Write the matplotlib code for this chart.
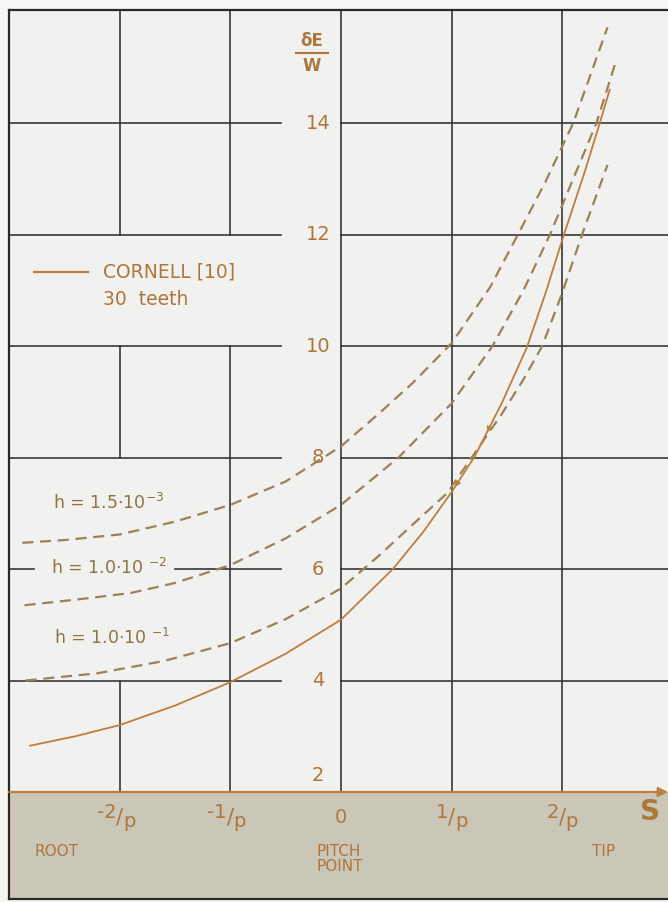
import numpy as np
import matplotlib
matplotlib.use("Agg")
import matplotlib.pyplot as plt
from matplotlib.transforms import offset_copy

plt.rcParams['font.family'] = ['DejaVu Sans']
plt.rcParams['mathtext.default'] = 'regular'

# ---------------- data (s in units of 1/p, deflection dE/W) ----------------
cornell_s = [-2.81, -2.4, -2.0, -1.5, -1.0, -0.5, 0.0, 0.47, 0.75, 1.0, 1.21, 1.46, 1.68, 1.85, 2.0, 2.2, 2.34, 2.43]
cornell_v = [2.83, 3.00, 3.20, 3.55, 3.97, 4.48, 5.09, 6.00, 6.68, 7.38, 8.02, 9.00, 9.97, 10.95, 11.9, 13.1, 14.0, 14.6]

h15e3_s = [-2.88, -2.5, -2.0, -1.5, -1.0, -0.5, 0.0, 0.35, 0.65, 1.0, 1.35, 1.60, 1.85, 2.10, 2.41]
h15e3_v = [6.47, 6.52, 6.62, 6.85, 7.15, 7.57, 8.20, 8.80, 9.34, 10.05, 11.06, 12.0, 12.95, 14.0, 15.72]

h10e2_s = [-2.86, -2.4, -1.9, -1.5, -1.0, -0.5, 0.0, 0.52, 1.0, 1.37, 1.65, 1.89, 2.10, 2.31, 2.48]
h10e2_v = [5.35, 5.45, 5.57, 5.75, 6.07, 6.55, 7.15, 8.00, 8.97, 10.0, 11.0, 12.0, 13.0, 14.0, 15.07]

h10e1_s = [-2.85, -2.2, -1.6, -1.0, -0.5, 0.0, 0.35, 0.65, 0.96, 1.46, 1.65, 1.82, 2.0, 2.18, 2.41]
h10e1_v = [4.00, 4.13, 4.35, 4.67, 5.10, 5.65, 6.25, 6.80, 7.36, 8.80, 9.40, 10.0, 10.95, 12.0, 13.25]

x_ticks = [-2, -1, 0, 1, 2]
x_tick_num = ['-2', '-1', '0', '1', '2']
y_ticks = [14, 12, 10, 8, 6, 4, 2]
y_tick_labels = ['14', '12', '10', '8', '6', '4', '2']
h_labels = [r'h = 1.5$\cdot$10$^{-3}$', r'h = 1.0$\cdot$10 $^{-2}$', r'h = 1.0$\cdot$10 $^{-1}$']

# ---------------- style ----------------
C_SOLID = '#bf7d3e'
C_DASH = '#9a8258'
C_TEXT = '#ad763c'
C_HTEXT = '#8e7447'
C_GRID = '#363636'
C_SHADE = '#cbc7b8'
C_BG = '#f1f1ef'

XMIN, XMAX = -3.0, 2.957
YMIN, YMAX = 0.08, 16.03

fig = plt.figure(figsize=(6.68, 9.02), dpi=100, facecolor='#f6f6f4')
ax = fig.add_axes([9 / 668, 3 / 902, 659 / 668, 889 / 902])
ax.set_xlim(XMIN, XMAX)
ax.set_ylim(YMIN, YMAX)
ax.set_facecolor(C_BG)
ax.set_xticks([])
ax.set_yticks([])
for side in ['top', 'left', 'bottom']:
    ax.spines[side].set_color('#2a2a2a')
    ax.spines[side].set_linewidth(1.6)
ax.spines['right'].set_visible(False)

# shaded strip below the s axis
ax.axhspan(YMIN, 2, color=C_SHADE, zorder=0)

glw = 1.2
GAP_L = -0.54  # end of left part of horizontal grid lines (label gap)
for v in [4, 6, 8, 10, 12, 14]:
    ax.plot([0, XMAX], [v, v], color=C_GRID, lw=glw, zorder=1)
    if v == 6:
        ax.plot([XMIN, -2.77], [v, v], color=C_GRID, lw=glw, zorder=1)
        ax.plot([-1.5, GAP_L], [v, v], color=C_GRID, lw=glw, zorder=1)
    else:
        ax.plot([XMIN, GAP_L], [v, v], color=C_GRID, lw=glw, zorder=1)

vsegs = {-2: [(2, 4), (8, 10), (12, YMAX)],
         -1: [(2, 10), (12, YMAX)],
         0: [(2, YMAX)], 1: [(2, YMAX)], 2: [(2, YMAX)]}
for s, segs in vsegs.items():
    for a, b in segs:
        ax.plot([s, s], [a, b], color=C_GRID, lw=glw, zorder=1)

# s axis with arrow
ax.annotate('', xy=(XMAX, 2), xytext=(XMIN, 2),
            arrowprops=dict(arrowstyle='-|>', color=C_SOLID, lw=1.6,
                            mutation_scale=14, shrinkA=0, shrinkB=0), zorder=3)

# curves
dash = (0, (5, 3))
for cs, cv in [(h15e3_s, h15e3_v), (h10e2_s, h10e2_v), (h10e1_s, h10e1_v)]:
    ax.plot(cs, cv, color=C_DASH, lw=1.6, ls=dash, zorder=4, solid_joinstyle='round')
ax.plot(cornell_s, cornell_v, color=C_SOLID, lw=1.3, zorder=5, solid_joinstyle='round')

# small arrowheads on the Cornell curve
for sa in [1.03, 1.32]:
    y1 = np.interp(sa, cornell_s, cornell_v)
    y0 = np.interp(sa + 0.03, cornell_s, cornell_v)
    ax.annotate('', xy=(sa, y1), xytext=(sa + 0.03, y0),
                arrowprops=dict(arrowstyle='-|>', color=C_SOLID, lw=0.5,
                                mutation_scale=10, shrinkA=0, shrinkB=0), zorder=6)

# y tick labels
for v, lab in zip(y_ticks, y_tick_labels):
    yy = v if v != 2 else 2.29
    ax.text(-0.208, yy, lab, color=C_TEXT, fontsize=14, ha='center', va='center', zorder=6)

# y axis label  dE / W
ax.text(-0.26, 15.47, 'δE', color=C_TEXT, fontsize=12, ha='center', va='center', fontweight='bold')
ax.plot([-0.41, -0.12], [15.26, 15.26], color=C_TEXT, lw=1.5)
ax.text(-0.26, 15.03, 'W', color=C_TEXT, fontsize=12, ha='center', va='center', fontweight='bold')

# x tick labels as  n/p
ytl = 1.55
for s, num in zip(x_ticks, x_tick_num):
    if num == '0':
        ax.text(s, ytl, '0', color=C_TEXT, fontsize=14, ha='center', va='center')
        continue
    ax.text(s, ytl, '/', color=C_TEXT, fontsize=15, ha='center', va='center')
    t1 = offset_copy(ax.transData, fig=fig, x=-2.5, y=3.5, units='points')
    ax.text(s, ytl, num, color=C_TEXT, fontsize=14, ha='right', va='center', transform=t1)
    t2 = offset_copy(ax.transData, fig=fig, x=2.5, y=-3.5, units='points')
    ax.text(s, ytl, 'p', color=C_TEXT, fontsize=14, ha='left', va='center', transform=t2)

ax.text(2.79, 1.64, 'S', color=C_TEXT, fontsize=20, fontweight='bold', ha='center', va='center')
ax.text(-2.77, 0.94, 'ROOT', color=C_TEXT, fontsize=11, ha='left', va='center')
ax.text(-0.22, 0.94, 'PITCH', color=C_TEXT, fontsize=11, ha='left', va='center')
ax.text(-0.22, 0.67, 'POINT', color=C_TEXT, fontsize=11, ha='left', va='center')
ax.text(2.27, 0.94, 'TIP', color=C_TEXT, fontsize=11, ha='left', va='center')

# legend
ax.plot([-2.77, -2.29], [11.33, 11.33], color=C_SOLID, lw=1.6)
ax.text(-2.15, 11.33, 'CORNELL [10]', color=C_TEXT, fontsize=13.5, ha='left', va='center')
ax.text(-2.15, 10.83, '30  teeth', color=C_TEXT, fontsize=13.5, ha='left', va='center')

# h labels
for lab, (xs, ys) in zip(h_labels, [(-2.60, 7.18), (-2.62, 6.02), (-2.59, 4.76)]):
    ax.text(xs, ys, lab, color=C_HTEXT, fontsize=12.5, ha='left', va='center', zorder=6)

fig.savefig('out.png', dpi=100, facecolor=fig.get_facecolor())
